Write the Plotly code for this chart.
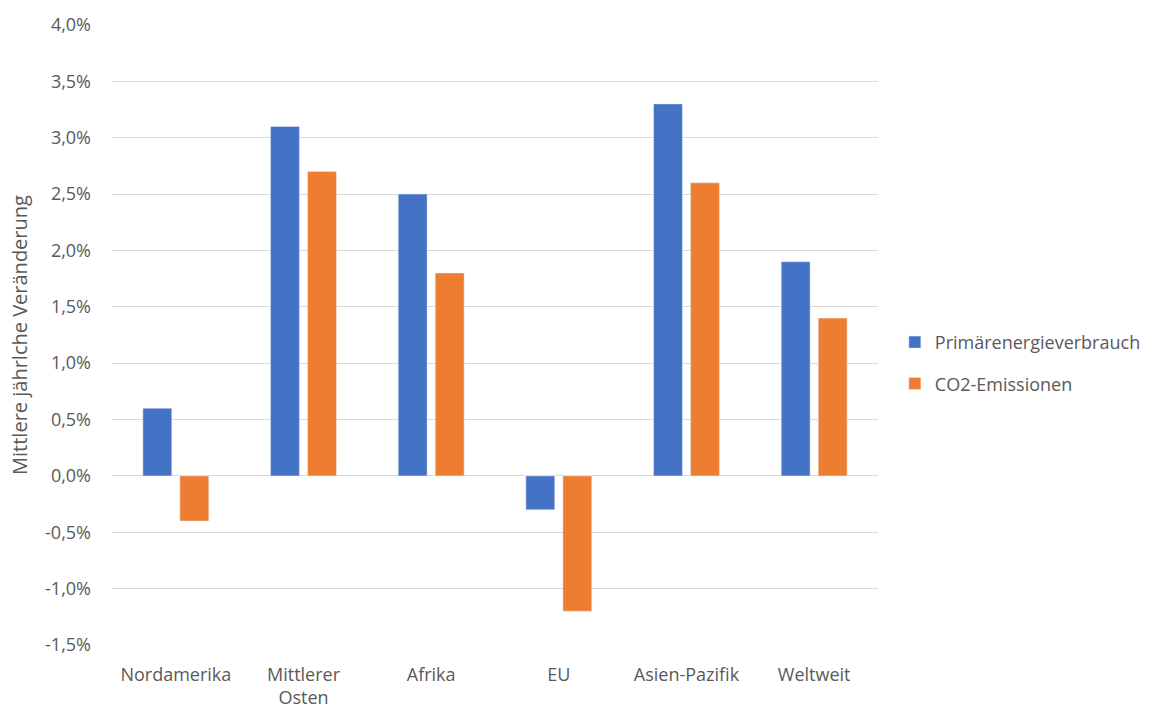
import plotly.graph_objects as go

categories = ["Nordamerika", "Mittlerer<br>Osten", "Afrika", "EU", "Asien-Pazifik", "Weltweit"]
primaer = [0.006, 0.031, 0.025, -0.003, 0.033, 0.019]
co2 = [-0.004, 0.027, 0.018, -0.012, 0.026, 0.014]
tick_vals = [-0.015, -0.01, -0.005, 0, 0.005, 0.01, 0.015, 0.02, 0.025, 0.03, 0.035, 0.04]
tick_text = ["-1,5%", "-1,0%", "-0,5%", "0,0%", "0,5%", "1,0%", "1,5%", "2,0%", "2,5%", "3,0%", "3,5%", "4,0%"]

font = "'Open Sans', sans-serif"
gray = "#595959"

fig = go.Figure()
fig.add_trace(go.Bar(name="Primärenergieverbrauch", x=categories, y=primaer,
                     marker_color="#4472C4", legendgroup="a"))
fig.add_trace(go.Bar(name="CO2-Emissionen", x=categories, y=co2,
                     marker_color="#ED7D31", legendgroup="b"))

fig.update_layout(
    width=1166, height=710,
    margin=dict(l=112, r=288, t=25, b=65),
    paper_bgcolor="white", plot_bgcolor="white",
    barmode="group", bargap=0.42, bargroupgap=0.22,
    font=dict(family=font, size=18, color=gray),
    legend=dict(x=1.022, y=0.455, xanchor="left", yanchor="middle",
                font=dict(size=18, color=gray), tracegroupgap=15, itemwidth=30,
                traceorder="grouped"),
    showlegend=True,
)
fig.update_xaxes(showgrid=False, showline=False, ticks="", ticklabelstandoff=17,
                 automargin=False, tickfont=dict(size=18, color=gray))
fig.update_yaxes(range=[-0.015, 0.04], tickvals=tick_vals, ticktext=tick_text,
                 showgrid=True, gridcolor="#D9D9D9", gridwidth=1,
                 zeroline=True, zerolinecolor="#D9D9D9", zerolinewidth=1,
                 showline=False, ticks="", ticklabelstandoff=20, automargin=False,
                 tickfont=dict(size=18, color=gray),
                 title=dict(text="Mittlere jährlche Veränderung", font=dict(size=20, color=gray), standoff=12))

fig.write_html("out.html")
